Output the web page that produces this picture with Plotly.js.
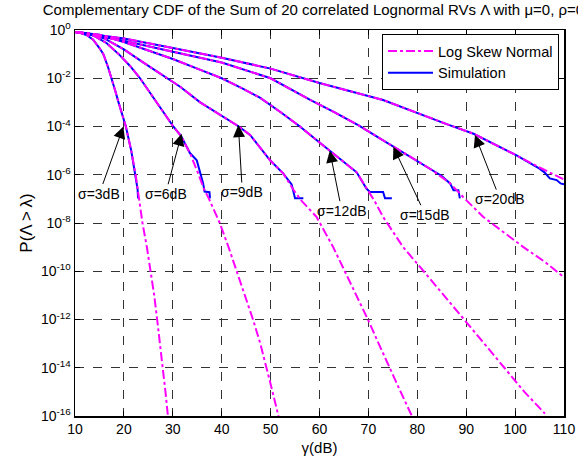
<!DOCTYPE html>
<html><head><meta charset="utf-8">
<script src="https://cdn.plot.ly/plotly-3.0.1.min.js"></script>
<style>html,body{margin:0;padding:0;background:#fff}#chart{width:578px;height:461px}</style>
</head><body><div id="chart"></div>
<script>
// ---- data: gamma (dB) vs P(Lambda > lambda) ----
var lsn3_x = [10,11,12.5,13.7,15,15.8,16.7,17.5,18.2,18.9,19.7,20.4,21.5,22.4,23.1,23.8,24.7,25.5,26.2,26.8,27.4,27.9,28.5,29.0];
var lsn3_y = [0.83,0.76,0.60,0.40,0.178,0.1,0.0316,1e-2,3.16e-3,1e-3,3.16e-4,1e-4,1e-5,1e-6,1e-7,1e-8,1e-9,1e-10,1e-11,1e-12,1e-13,1e-14,1e-15,1e-16];
var sim3_x = [10,11,12.5,13.7,15,15.8,16.7,17.5,18.2,18.9,19.7,20.4,21.5,22.4,22.6,22.8,22.9];
var sim3_y = [0.83,0.76,0.60,0.40,0.178,0.1,0.0316,1e-2,3.16e-3,1e-3,3.16e-4,1e-4,1e-5,1e-6,5e-7,2.5e-7,1.05e-7];

var lsn6_x = [10,12,14,16.5,19.2,21.3,23.3,25.0,26.7,28.4,30.1,31.7,33.5,35.0,36.4,37.4,39.6,41.4,43.1,44.8,46.4,47.9,49.2,50.4,51.6];
var lsn6_y = [0.83,0.76,0.562,0.282,0.089,0.0316,1e-2,3.16e-3,1e-3,3.16e-4,1e-4,3.98e-5,7.94e-6,1.41e-6,2.51e-7,1e-7,1e-8,1e-9,1e-10,1e-11,1e-12,1e-13,1e-14,1e-15,1e-16];
var sim6_x = [10,12,14,16.5,19.2,21.3,23.3,25.0,26.7,28.4,30.1,31.7,33.5,34.9,35.6,36.2,36.5,37.5,37.6];
var sim6_y = [0.83,0.76,0.562,0.282,0.089,0.0316,1e-2,3.16e-3,1e-3,3.16e-4,1e-4,3.98e-5,7.94e-6,3.98e-6,1.26e-6,4.37e-7,2.0e-7,1.9e-7,1.05e-7];

var lsn9_x = [10,13,16,20,24,28,31.5,35.6,39.5,43.5,45.8,47.8,49.9,52.6,54.6,56.2,59.4,62.8,65.2,67.6,69.9,72.1,74.3,76.6,78.9];
var lsn9_y = [0.83,0.708,0.447,0.158,0.0447,0.0126,4.47e-3,1e-3,3.16e-4,1e-4,4.47e-5,1.41e-5,3.98e-6,1.12e-6,2.51e-7,8.91e-8,1.78e-8,1e-9,1e-10,1e-11,1e-12,1e-13,1e-14,1e-15,1e-16];
var sim9_x = [10,13,16,20,24,28,31.5,35.6,39.5,43.5,45.8,47.8,49.9,52.6,53.6,54.3,54.6,55.0,56.7];
var sim9_y = [0.83,0.708,0.447,0.158,0.0447,0.0126,4.47e-3,1e-3,3.16e-4,1e-4,4.47e-5,1.41e-5,3.98e-6,1.12e-6,6.31e-7,3.98e-7,2.29e-7,1.05e-7,1.05e-7];

var lsn12_x = [10,15,20,25,30,35,40,44,47.8,52,56,59,62.1,65,67.6,69.6,71.3,73.0,77.1,81.3,85.5,89.6,93.7,97.8,101.9,106.1];
var lsn12_y = [0.83,0.631,0.316,0.141,0.0631,0.0251,1e-2,3.98e-3,1.58e-3,3.98e-4,1e-4,3.16e-5,1e-5,3.55e-6,1.26e-6,2.82e-7,7.94e-8,1.78e-8,1e-9,1e-10,1e-11,1e-12,1e-13,1e-14,1e-15,1.26e-16];
var sim12_x = [10,15,20,25,30,35,40,44,47.8,52,56,59,62.1,65,67.6,69.6,70.3,73.0,73.4,74.8];
var sim12_y = [0.83,0.631,0.316,0.141,0.0631,0.0251,1e-2,3.98e-3,1.58e-3,3.98e-4,1e-4,3.16e-5,1e-5,3.55e-6,1.26e-6,2.69e-7,1.95e-7,1.95e-7,1.05e-7,1.05e-7];

var lsn15_x = [10,20,30,40,50,58.1,63,68,72,75.1,79,82.6,86.7,89.5,93.5,101.7,106,110];
var lsn15_y = [0.83,0.355,0.126,0.0447,1e-2,1.26e-3,3.98e-4,1.12e-4,3.55e-5,1.45e-5,5.01e-6,1.78e-6,4.47e-7,1.12e-7,1.78e-8,1e-9,2.51e-10,5.62e-11];
var sim15_x = [10,20,30,40,50,58.1,63,68,72,75.1,79,82.6,85,86.7,87.4,88.4,88.7];
var sim15_y = [0.83,0.355,0.126,0.0447,1e-2,1.26e-3,3.98e-4,1.12e-4,3.55e-5,1.45e-5,5.01e-6,1.78e-6,8.91e-7,4.37e-7,2.29e-7,2.29e-7,1.05e-7];

var lsn20_x = [10,20,30,40,50,60,73,80,86,91.5,96,100.3,105,110];
var lsn20_y = [0.83,0.447,0.178,0.0708,0.0251,6.31e-3,1.26e-3,3.55e-4,1.26e-4,5.01e-5,1.78e-5,6.31e-6,2.0e-6,6.31e-7];
var sim20_x = [10,20,30,40,50,60,73,80,86,91.5,96,100.3,105,106,107.1,108.5,109.3,110];
var sim20_y = [0.83,0.447,0.178,0.0708,0.0251,6.31e-3,1.26e-3,3.55e-4,1.26e-4,5.01e-5,1.78e-5,6.31e-6,1.78e-6,1.26e-6,7.08e-7,6.03e-7,4.37e-7,3.98e-7];

var seriesNames = ['Log Skew Normal', 'Simulation'];
var xTicks = [10,20,30,40,50,60,70,80,90,100,110];
var yTickVals = [1,1e-2,1e-4,1e-6,1e-8,1e-10,1e-12,1e-14,1e-16];
var yTickText = ['10<sup>0</sup>','10<sup>-2</sup>','10<sup>-4</sup>','10<sup>-6</sup>','10<sup>-8</sup>','10<sup>-10</sup>','10<sup>-12</sup>','10<sup>-14</sup>','10<sup>-16</sup>'];
var sigmaLabels = ['σ=3dB','σ=6dB','σ=9dB','σ=12dB','σ=15dB','σ=20dB'];
var arrowTipX = [19.9,31.8,43.4,62.1,75.1,91.8];
var arrowTipP = [1e-4,5.0e-5,1.15e-4,1e-5,1.45e-5,4.4e-5];

var sims = [[sim3_x,sim3_y],[sim6_x,sim6_y],[sim9_x,sim9_y],[sim12_x,sim12_y],[sim15_x,sim15_y],[sim20_x,sim20_y]];
var lsns = [[lsn3_x,lsn3_y],[lsn6_x,lsn6_y],[lsn9_x,lsn9_y],[lsn12_x,lsn12_y],[lsn15_x,lsn15_y],[lsn20_x,lsn20_y]];

var traces = [];
sims.forEach(function(s, i){
  traces.push({x:s[0], y:s[1], type:'scatter', mode:'lines', name:seriesNames[1],
    legendgroup:'sim', showlegend:i===0, legendrank:2,
    line:{color:'#0000ff', width:2}});
});
lsns.forEach(function(s, i){
  traces.push({x:s[0], y:s[1], type:'scatter', mode:'lines', name:seriesNames[0],
    legendgroup:'lsn', showlegend:i===0, legendrank:1,
    line:{color:'#ff00ff', width:2, dash:'dashdot'}});
});

var FF = 'Liberation Sans, Arial, sans-serif';
// text offsets (pixels) relative to arrow tips
var offX = [-24,-16,4,12,32,25];
var offY = [67,60,67,60,68,64];
var annotations = sigmaLabels.map(function(t, i){
  return {x:arrowTipX[i], y:Math.log10(arrowTipP[i]), xref:'x', yref:'y', text:t,
    showarrow:true, ax:offX[i], ay:offY[i], arrowhead:2, arrowsize:2.4, arrowwidth:1,
    arrowcolor:'#000', font:{family:FF, size:14, color:'#000'}};
});

var layout = {
  width:578, height:461,
  margin:{l:75, r:14, t:30, b:45},
  paper_bgcolor:'#fff', plot_bgcolor:'#fff',
  font:{family:FF, size:13, color:'#000'},
  showlegend:true,
  title:{text:'Complementary CDF of the Sum of 20 correlated Lognormal RVs Λ with μ=0, ρ=0.7',
    x:0.074, xref:'container', xanchor:'left', y:0.99, yref:'container', yanchor:'top',
    font:{family:FF, size:15, color:'#000'}},
  xaxis:{type:'linear', range:[10,110], tickvals:xTicks, ticks:'inside', ticklen:5, tickcolor:'#000',
    showline:true, linecolor:'#000', linewidth:1.5, mirror:'ticks',
    showgrid:true, gridcolor:'#333', gridwidth:1, griddash:'dash', zeroline:false,
    title:{text:'γ(dB)', font:{size:15}, standoff:6}, tickfont:{size:14}},
  yaxis:{type:'log', range:[-16,0], tickvals:yTickVals, ticktext:yTickText, ticks:'inside', ticklen:5, tickcolor:'#000',
    showline:true, linecolor:'#000', linewidth:1.5, mirror:'ticks',
    showgrid:true, gridcolor:'#333', gridwidth:1, griddash:'dash', zeroline:false,
    title:{text:'P(Λ\u2009>\u2009λ)', font:{size:17}, standoff:4}, tickfont:{size:14}},
  legend:{x:0.9898, xanchor:'right', y:0.9896, yanchor:'top', bgcolor:'#fff',
    bordercolor:'#000', borderwidth:1, font:{size:14.5}, itemwidth:45, traceorder:'normal'},
  annotations:annotations
};
Plotly.newPlot('chart', traces, layout, {staticPlot:true, displayModeBar:false});
</script></body></html>
